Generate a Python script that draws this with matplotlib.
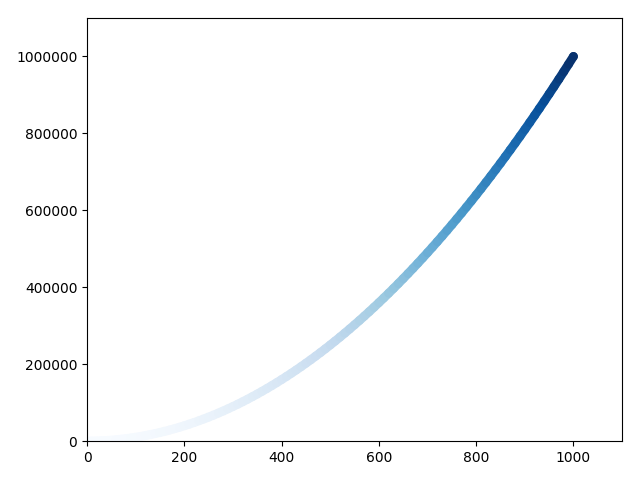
import matplotlib
matplotlib.use('Agg')
import matplotlib.pyplot as plt
from matplotlib.collections import LineCollection
from matplotlib.colors import Normalize

x_values = list(range(0, 1001, 10))
y_values = [
    0,
    100, 400, 900, 1600, 2500, 3600, 4900, 6400, 8100, 10000,
    12100, 14400, 16900, 19600, 22500, 25600, 28900, 32400, 36100, 40000,
    44100, 48400, 52900, 57600, 62500, 67600, 72900, 78400, 84100, 90000,
    96100, 102400, 108900, 115600, 122500, 129600, 136900, 144400, 152100, 160000,
    168100, 176400, 184900, 193600, 202500, 211600, 220900, 230400, 240100, 250000,
    260100, 270400, 280900, 291600, 302500, 313600, 324900, 336400, 348100, 360000,
    372100, 384400, 396900, 409600, 422500, 435600, 448900, 462400, 476100, 490000,
    504100, 518400, 532900, 547600, 562500, 577600, 592900, 608400, 624100, 640000,
    656100, 672400, 688900, 705600, 722500, 739600, 756900, 774400, 792100, 810000,
    828100, 846400, 864900, 883600, 902500, 921600, 940900, 960400, 980100, 1000000,
]

fig = plt.figure(figsize=(6.4, 4.8), dpi=100)
ax = fig.add_axes([0.136, 0.081, 0.836, 0.8815])

# dense scatter drawn as a thick colour-mapped stroke through the points
pts = list(zip(x_values, y_values))
segs = [[pts[i], pts[i + 1]] for i in range(len(pts) - 1)]
seg_vals = [(y_values[i] + y_values[i + 1]) / 2 for i in range(len(pts) - 1)]
norm = Normalize(min(y_values), max(y_values))
lc = LineCollection(segs, cmap='Blues', norm=norm, linewidths=6.4,
                    capstyle='round', joinstyle='round')
lc.set_array(seg_vals)
ax.add_collection(lc)
ax.scatter(x_values[-1:], y_values[-1:], c=y_values[-1:], cmap='Blues',
           norm=norm, edgecolor='none', s=40)

ax.axis([0, 1100, 0, 1100000])
ax.ticklabel_format(style='plain', useOffset=False)
plt.savefig('out.png', dpi=100)
